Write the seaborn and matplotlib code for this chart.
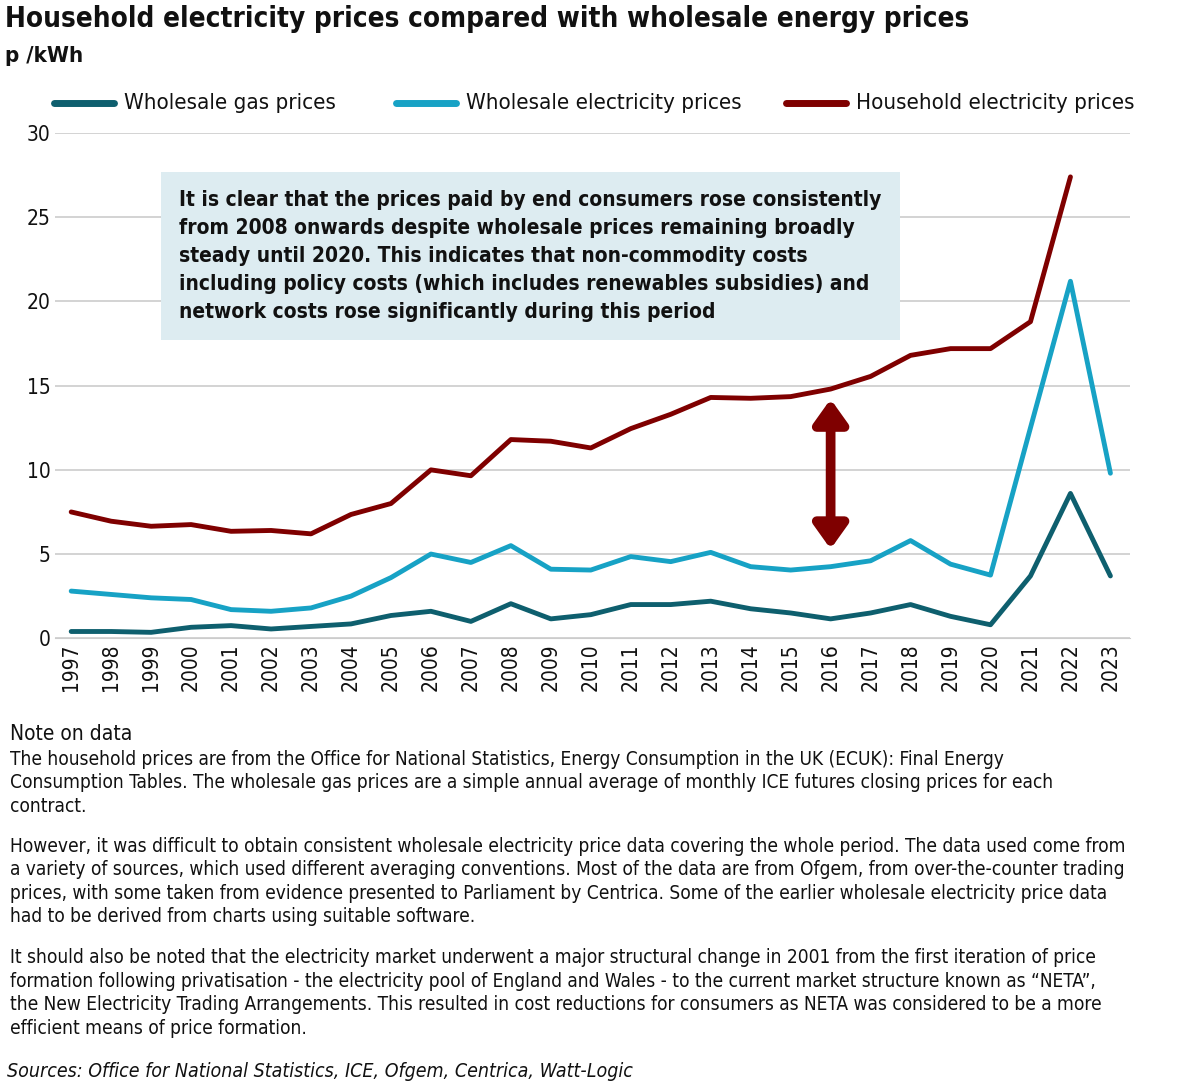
import matplotlib.pyplot as plt
import seaborn as sns
import pandas as pd
from matplotlib.patches import FancyArrowPatch

years = list(range(1997, 2024))
gas = [0.4, 0.4, 0.35, 0.65, 0.75, 0.55, 0.7, 0.85, 1.35, 1.6, 1.0, 2.05, 1.15, 1.4,
       2.0, 2.0, 2.2, 1.75, 1.5, 1.15, 1.5, 2.0, 1.3, 0.8, 3.7, 8.6, 3.7]
wholesale = [2.8, 2.6, 2.4, 2.3, 1.7, 1.6, 1.8, 2.5, 3.6, 5.0, 4.5, 5.5, 4.1, 4.05,
             4.85, 4.55, 5.1, 4.25, 4.05, 4.25, 4.6, 5.8, 4.4, 3.75, 12.5, 21.2, 9.8]
household = [7.5, 6.95, 6.65, 6.75, 6.35, 6.4, 6.2, 7.35, 8.0, 10.0, 9.65, 11.8, 11.7, 11.3,
             12.45, 13.3, 14.3, 14.25, 14.35, 14.8, 15.55, 16.8, 17.2, 17.2, 18.8, 27.4, None]

sns.set_style("white")
plt.rcParams['font.family'] = ['DejaVu Sans']
plt.rcParams['font.stretch'] = 'condensed'
plt.rcParams['text.color'] = '#111111'

df = pd.DataFrame({"Year": years, "Wholesale gas prices": gas,
                   "Wholesale electricity prices": wholesale,
                   "Household electricity prices": household})
long = df.melt("Year", var_name="Series", value_name="Price").dropna()

fig = plt.figure(figsize=(12, 10.91), dpi=100)
ax = fig.add_axes([0.046, 0.415, 0.896, 0.463])
palette = {"Wholesale gas prices": "#0e5f6e", "Wholesale electricity prices": "#17a2c5",
           "Household electricity prices": "#7f0000"}
sns.lineplot(data=long, x="Year", y="Price", hue="Series", palette=palette, lw=3.5, ax=ax,
             legend=False, zorder=3)

ax.set_xlim(1996.6, 2023.5)
ax.set_ylim(0, 30)
ax.set_yticks(range(0, 31, 5))
ax.set_xticks(years)
ax.set_xticklabels(years, rotation=90, fontsize=15)
ax.tick_params(axis='y', labelsize=15, length=0, colors='#111111')
ax.tick_params(axis='x', length=0, colors='#111111')
ax.yaxis.grid(True, color="#cccccc", lw=1.2)
ax.set_xlabel("")
ax.set_ylabel("")
for s in ["top", "right", "left"]:
    ax.spines[s].set_visible(False)
ax.spines["bottom"].set_color("#cccccc")

arrow = FancyArrowPatch((2016, 5.3), (2016, 14.2), arrowstyle="<|-|>,head_length=14,head_width=10",
                        color="#7f0000", lw=7, mutation_scale=1, shrinkA=0, shrinkB=0, zorder=4)
ax.add_patch(arrow)

ax.text(1999.7, 26.6,
        "It is clear that the prices paid by end consumers rose consistently\n"
        "from 2008 onwards despite wholesale prices remaining broadly\n"
        "steady until 2020. This indicates that non-commodity costs\n"
        "including policy costs (which includes renewables subsidies) and\n"
        "network costs rose significantly during this period",
        fontsize=15, fontweight="bold", va="top", ha="left", linespacing=1.5, zorder=2,
        bbox=dict(facecolor="#ddecf1", edgecolor="none", pad=13))

# legend
lx = [0.045, 0.33, 0.655]
for x, (name, c) in zip(lx, palette.items()):
    fig.add_artist(plt.Line2D([x, x + 0.05], [0.906, 0.906], color=c, lw=5))
    fig.text(x + 0.058, 0.906, name, fontsize=16, va="center")

fig.text(0.004, 0.995, "Household electricity prices compared with wholesale energy prices",
         fontsize=20, fontweight="bold", va="top")
fig.text(0.004, 0.958, "p /kWh", fontsize=16, fontweight="bold", va="top")

fig.text(0.008, 0.336, "Note on data", fontsize=15, va="top")
notes = [
    (0.313, "The household prices are from the Office for National Statistics, Energy Consumption in the UK (ECUK): Final Energy\n"
            "Consumption Tables. The wholesale gas prices are a simple annual average of monthly ICE futures closing prices for each\n"
            "contract."),
    (0.233, "However, it was difficult to obtain consistent wholesale electricity price data covering the whole period. The data used come from\n"
            "a variety of sources, which used different averaging conventions. Most of the data are from Ofgem, from over-the-counter trading\n"
            "prices, with some taken from evidence presented to Parliament by Centrica. Some of the earlier wholesale electricity price data\n"
            "had to be derived from charts using suitable software."),
    (0.131, "It should also be noted that the electricity market underwent a major structural change in 2001 from the first iteration of price\n"
            "formation following privatisation - the electricity pool of England and Wales - to the current market structure known as \u201cNETA\u201d,\n"
            "the New Electricity Trading Arrangements. This resulted in cost reductions for consumers as NETA was considered to be a more\n"
            "efficient means of price formation."),
]
for y, t in notes:
    fig.text(0.008, y, t, fontsize=13.7, va="top", linespacing=1.3)
fig.text(0.006, 0.027, "Sources: Office for National Statistics, ICE, Ofgem, Centrica, Watt-Logic",
         fontsize=14, style="italic", va="top")

fig.savefig("out.png", dpi=100)
